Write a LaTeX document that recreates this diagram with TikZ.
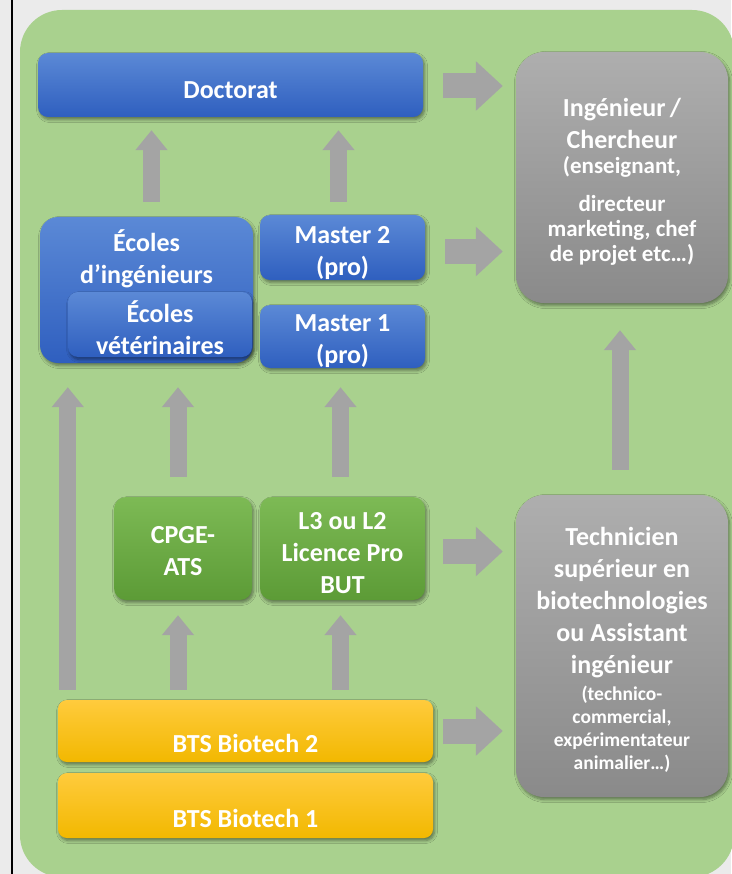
\documentclass[tikz,border=0pt]{standalone}
\usepackage{fontspec}
\setmainfont{Carlito}
\usetikzlibrary{arrows.meta}
\usetikzlibrary{shadows.blur}
\definecolor{outergray}{HTML}{EBEBEB}
\definecolor{panelgreen}{HTML}{A9D18E}
\definecolor{bluetop}{HTML}{5B89D6}
\definecolor{bluebot}{HTML}{2F5FBF}
\definecolor{greentop}{HTML}{7DBA55}
\definecolor{greenbot}{HTML}{5C9B36}
\definecolor{yellowtop}{HTML}{FFCB3D}
\definecolor{yellowbot}{HTML}{F2B800}
\definecolor{graytop}{HTML}{AEAEAE}
\definecolor{graybot}{HTML}{8A8A8A}
\definecolor{arrowgray}{HTML}{A4A4A4}
\newcommand{\lift}[2]{\makebox[0pt]{\raisebox{#1}[0pt][0pt]{\parbox{230pt}{\centering #2}}}}

\begin{document}
\begin{tikzpicture}[x=1pt,y=-1pt,
    box/.style={inner sep=0pt, text=white, font=\fontsize{26}{32}\selectfont\bfseries,
      blur shadow={shadow xshift=1.5pt,shadow yshift=-2.5pt,shadow blur steps=6,shadow blur radius=3pt,shadow opacity=45}},
    bluebox/.style={box, rounded corners=10pt, top color=bluetop, bottom color=bluebot},
    greenbox/.style={box, rounded corners=12pt, top color=greentop, bottom color=greenbot},
    yellowbox/.style={box, rounded corners=9pt, top color=yellowtop, bottom color=yellowbot},
    graybox/.style={box, rounded corners=28pt, top color=graytop, bottom color=graybot},
    harrow/.style={draw=arrowgray, line width=25pt, -{Triangle[length=27pt,width=48pt]}, shorten >=13pt},
    varrow/.style={draw=arrowgray, line width=17pt, -{Triangle[length=20pt,width=31pt]}}]
					\useasboundingbox (0,0) rectangle (731,874);
					\fill[outergray] (0,0) rectangle (731,874);
					\draw[black, line width=1.2pt] (12,0) -- (12,874);
					\fill[panelgreen, rounded corners=42pt] (20,10) rectangle (734,877);
					\begin{scope}
						\node[bluebox, minimum width=385pt, minimum height=64pt] (doc) at (230.5,85) {\lift{-11pt}{Doctorat}};
						\node[graybox, minimum width=212pt, minimum height=251pt] (ing) at (622,177.5) {\lift{-11pt}{Ingénieur\,/\\Chercheur\par\fontsize{23}{25}\selectfont(enseignant,\par\vspace{13pt}directeur\\marketing, chef\\de projet etc…)}};
						\node[bluebox, rounded corners=18pt, minimum width=213pt, minimum height=146pt] (ecoles) at (146.5,290) {\lift{24.5pt}{Écoles\\d’ingénieurs}};
						\node[bluebox, minimum width=184pt, minimum height=65pt] (vet) at (160,324.5) {\lift{-9pt}{Écoles\\vétérinaires}};
						\node[bluebox, minimum width=165pt, minimum height=65pt] (m2) at (342.5,247.5) {\lift{-11.5pt}{Master 2\\(pro)}};
						\node[bluebox, minimum width=165pt, minimum height=63pt] (m1) at (342.5,336.5) {\lift{-10.5pt}{Master 1\\(pro)}};
						\node[greenbox, minimum width=138pt, minimum height=103pt] (cpge) at (183,548.5) {\lift{-9pt}{CPGE-\\ATS}};
						\node[greenbox, minimum width=165pt, minimum height=103pt] (l3) at (342.5,548.5) {\lift{-10.5pt}{L3 ou L2\\Licence Pro\\BUT}};
						\node[graybox, minimum width=212pt, minimum height=302pt] (tech) at (622,646) {\lift{-10.5pt}{Technicien\\supérieur en\\biotechnologies\\ou Assistant\\ingénieur\par\vspace{4pt}\fontsize{19.5}{23}\selectfont(technico-\\commercial,\\expérimentateur\\animalier…)}};
						\node[yellowbox, minimum width=375pt, minimum height=62pt] (bts2) at (245.5,731) {\lift{-18.5pt}{BTS Biotech 2}};
						\node[yellowbox, minimum width=375pt, minimum height=65pt] (bts1) at (245.5,805.5) {\lift{-19pt}{BTS Biotech 1}};
					\end{scope}
					\draw[harrow, shorten <=20pt] ([yshift=-1pt]doc.east) -- ([yshift=-1pt]doc.east -| ing.west);
					\draw[harrow, shorten <=20pt] ([yshift=-4pt]m2.east) -- ([yshift=-4pt]m2.east -| ing.west);
					\draw[harrow, shorten <=18pt] ([yshift=-3pt]l3.east) -- ([yshift=-3pt]l3.east -| tech.west);
					\draw[harrow, shorten <=10pt] (bts2.east) -- (bts2.east -| tech.west);
					\draw[varrow, shorten <=15pt, shorten >=13pt] ([xshift=5pt]ecoles.north) -- ([xshift=5pt]ecoles.north |- doc.south);
					\draw[varrow, shorten <=13pt, shorten >=13pt] ([xshift=-4pt]m2.north) -- ([xshift=-4pt]m2.north |- doc.south);
					\draw[varrow, shorten <=10pt, shorten >=24pt] ([xshift=10pt]bts2.north west) -- ([xshift=10pt]bts2.north west |- ecoles.south);
					\draw[varrow, shorten <=20pt, shorten >=24pt] ([xshift=-5pt]cpge.north) -- ([xshift=-5pt]cpge.north |- ecoles.south);
					\draw[varrow, shorten <=20pt, shorten >=19pt] ([xshift=-2pt]l3.north) -- ([xshift=-2pt]l3.north |- m1.south);
					\draw[varrow, shorten <=10pt, shorten >=15pt] ([xshift=-5pt]cpge.south |- bts2.north) -- ([xshift=-5pt]cpge.south);
					\draw[varrow, shorten <=10pt, shorten >=15pt] ([xshift=-2pt]l3.south |- bts2.north) -- ([xshift=-2pt]l3.south);
					\draw[varrow, shorten <=25pt, shorten >=27pt] ([xshift=-2pt]tech.north) -- ([xshift=-2pt]tech.north |- ing.south);
				\end{tikzpicture}
\end{document}
